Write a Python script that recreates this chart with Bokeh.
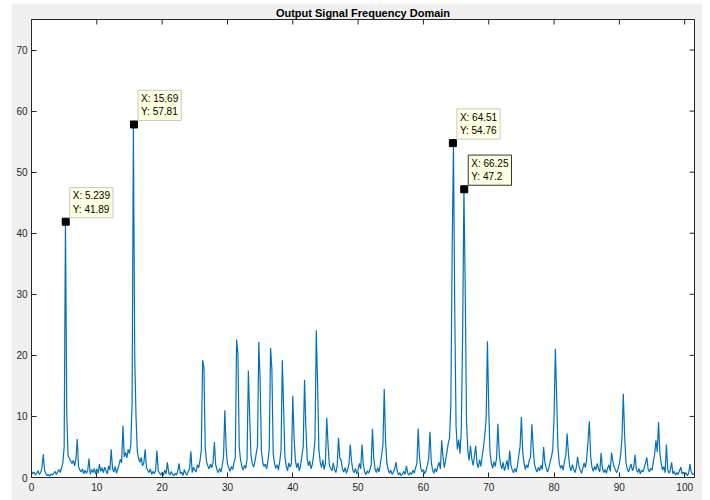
import math
from bokeh.plotting import figure
from bokeh.models import Range1d, Label, FixedTicker
from bokeh.embed import file_html
from bokeh.resources import INLINE

# ---- data ----
FREQ_STEP = 0.2  # spacing of the frequency samples (Hz)
amp = [
    1.0, 0.6, 0.9, 0.4, 0.7, 1.1, 0.5, 0.8, 1.6, 3.8,      # 0.0 - 1.8
    1.2, 0.6, 0.3, 0.5, 0.2, 0.6, 0.4, 0.7, 1.0, 0.5,      # 2.0
    0.9, 1.3, 0.8, 1.6, 2.4, 5.0, 41.89, 10.5, 3.6, 3.1,   # 4.0
    2.7, 2.3, 2.8, 1.9, 3.0, 6.3, 1.8, 1.2, 0.9, 1.4,      # 6.0
    0.6, 1.2, 0.7, 1.1, 3.1, 0.5, 1.3, 0.8, 1.5, 0.6,      # 8.0
    1.4, 0.7, 2.2, 1.0, 1.6, 0.8, 1.7, 1.1, 0.6, 1.9,      # 10.0
    1.2, 4.6, 1.5, 0.9, 1.8, 0.7, 1.4, 2.1, 3.0, 2.4,      # 12.0
    8.5, 3.4, 4.1, 3.2, 4.6, 3.9, 5.3, 12.3, 57.81, 20.0,  # 14.0
    10.0, 4.2, 3.1, 2.5, 3.3, 1.9, 2.4, 4.6, 1.6, 1.2,     # 16.0
    0.8, 1.4, 0.5, 1.0, 0.6, 1.2, 4.4, 1.1, 0.7, 0.4,      # 18.0
    0.9, 0.3, 1.2, 0.6, 2.5, 0.8, 0.4, 1.0, 0.5, 0.3,      # 20.0
    0.7, 0.4, 1.1, 2.3, 0.6, 0.9, 0.3, 1.3, 0.7, 0.4,      # 22.0
    1.0, 1.5, 4.3, 0.8, 1.7, 1.2, 0.9, 2.1, 1.6, 2.8,      # 24.0
    4.5, 19.2, 18.0, 4.8, 2.6, 1.9, 1.4, 2.2, 1.6, 2.5,    # 26.0
    5.8, 2.1, 1.2, 0.8, 1.5, 0.9, 2.0, 3.4, 11.0, 4.7,     # 28.0
    2.2, 1.6, 1.0, 1.8, 1.3, 2.5, 3.2, 22.6, 20.3, 5.1,    # 30.0
    2.9, 1.8, 1.2, 2.0, 1.5, 3.1, 17.5, 10.0, 3.6, 2.3,    # 32.0
    1.7, 2.6, 3.9, 5.2, 22.2, 16.0, 4.3, 2.5, 1.8, 2.2,    # 34.0
    1.4, 2.7, 4.8, 21.2, 17.8, 4.0, 2.3, 1.5, 2.1, 1.2,    # 36.0
    2.6, 4.4, 19.2, 11.2, 3.3, 1.9, 1.1, 2.4, 1.7, 2.3,    # 38.0
    13.4, 6.5, 2.8, 1.6, 2.4, 1.1, 2.0, 3.6, 5.1, 16.0,    # 40.0
    8.4, 3.2, 1.9, 2.7, 1.4, 2.2, 3.8, 6.2, 24.1, 15.0,    # 42.0
    4.6, 2.5, 1.6, 2.9, 1.3, 2.3, 9.8, 5.4, 2.0, 1.5,      # 44.0
    1.1, 2.4, 1.3, 0.8, 1.9, 6.5, 3.2, 2.8, 1.4, 0.9,      # 46.0
    1.6, 0.7, 1.3, 2.2, 5.4, 2.6, 1.2, 0.8, 1.5, 0.6,      # 48.0
    1.2, 2.3, 1.4, 5.4, 2.1, 0.9, 0.5, 1.1, 0.7, 1.3,      # 50.0
    2.0, 8.0, 3.1, 1.4, 0.8, 1.6, 0.9, 2.2, 3.6, 5.3,      # 52.0
    14.5, 6.0, 2.4, 1.3, 0.7, 1.2, 0.5, 0.9, 1.4, 2.5,     # 54.0
    1.0, 0.4, 0.8, 0.3, 0.6, 1.0, 0.5, 1.9, 0.7, 0.4,      # 56.0
    0.8, 0.5, 1.2, 0.7, 1.6, 2.3, 8.0, 3.4, 1.5, 0.9,      # 58.0
    1.3, 0.6, 1.1, 2.0, 3.1, 7.5, 2.6, 1.2, 0.7, 1.5,      # 60.0
    0.9, 1.8, 2.5, 1.4, 6.1, 3.3, 1.6, 2.8, 4.2, 5.6,      # 62.0
    6.5, 12.0, 37.0, 54.76, 27.0, 8.3, 4.6, 6.2, 3.9, 7.8, # 64.0
    23.0, 47.2, 31.0, 9.0, 4.4, 2.8, 5.2, 3.1, 2.0, 3.4,   # 66.0
    5.2, 2.4, 1.6, 2.9, 1.8, 3.5, 5.0, 7.0, 9.5, 22.3,     # 68.0
    11.0, 4.1, 2.3, 1.5, 2.6, 1.8, 3.2, 8.8, 4.0, 2.2,     # 70.0
    1.4, 2.5, 1.1, 1.9, 2.8, 1.3, 4.4, 2.0, 1.2, 0.8,      # 72.0
    1.5, 0.9, 2.0, 3.6, 5.1, 9.9, 4.2, 2.4, 1.3, 2.1,      # 74.0
    1.6, 2.8, 3.3, 8.7, 5.0, 2.2, 1.4, 0.9, 1.7, 1.1,      # 76.0
    2.0, 1.3, 5.0, 2.4, 1.6, 0.9, 1.5, 2.6, 3.4, 4.5,      # 78.0
    10.0, 21.1, 13.0, 4.8, 2.3, 1.5, 2.0, 1.2, 2.7, 3.6,   # 80.0
    7.2, 3.9, 1.8, 1.1, 2.1, 1.4, 0.8, 1.6, 3.4, 1.9,      # 82.0
    1.2, 0.7, 1.5, 2.4, 1.6, 3.1, 6.0, 9.2, 3.5, 1.7,      # 84.0
    1.0, 1.8, 1.2, 2.3, 1.4, 0.9, 4.0, 1.6, 0.8, 1.3,      # 86.0
    0.7, 1.5, 2.1, 1.0, 4.1, 2.6, 1.8, 1.2, 0.8, 1.4,      # 88.0
    2.3, 3.8, 6.5, 13.7, 7.0, 2.5, 1.4, 0.9, 1.6, 2.2,     # 90.0
    1.1, 1.7, 3.7, 1.3, 0.8, 1.5, 0.6, 1.2, 0.9, 1.6,      # 92.0
    2.4, 3.3, 1.4, 0.9, 1.5, 1.2, 2.6, 3.8, 6.1, 4.2,      # 94.0
    9.1, 4.0, 2.3, 1.2, 1.8, 0.8, 5.4, 1.3, 0.7, 1.2,      # 96.0
    2.5, 0.6, 1.0, 0.4, 0.8, 0.5, 1.1, 1.7, 0.6, 0.9,      # 98.0
    0.4, 0.8, 0.3, 0.7, 2.2, 0.9, 0.5, 0.6, 0.4,           # 100.0 - 101.6
]
freq = [round(i * FREQ_STEP, 1) for i in range(len(amp))]

tip_x = [5.239, 15.69, 64.51, 66.25]
tip_y = [41.89, 57.81, 54.76, 47.2]
tip_selected = [False, False, False, True]

x_ticks = [0, 10, 20, 30, 40, 50, 60, 70, 80, 90, 100]
y_ticks = [0, 10, 20, 30, 40, 50, 60, 70]
title_text = "Output Signal Frequency Domain"

X_MAX = 101.5
Y_MAX = 75

# ---- styling ----
AX = "#262626"
FONT = "Liberation Sans"
LINE = "#0072BD"

p = figure(width=691, height=497, output_backend="svg", toolbar_location=None,
           x_range=Range1d(0, X_MAX), y_range=Range1d(0, Y_MAX),
           title=title_text,
           min_border_left=20, min_border_right=8, min_border_top=10, min_border_bottom=23)
p.margin = (3, 8, 0, 11)
p.border_fill_color = "#f0f0f0"
p.background_fill_color = "white"
p.outline_line_color = AX
p.grid.visible = False

p.title.align = "center"
p.title.text_font = FONT
p.title.text_font_size = "11px"
p.title.text_font_style = "bold"
p.title.text_color = "black"
p.title.standoff = 2
p.title.offset = 0
p.title.text_line_height = 1.0

for ax in (p.xaxis[0], p.yaxis[0]):
    ax.major_tick_in = 5
    ax.major_tick_out = 0
    ax.minor_tick_in = 0
    ax.minor_tick_out = 0
    ax.axis_line_color = AX
    ax.major_tick_line_color = AX
    ax.major_label_text_font = FONT
    ax.major_label_text_color = AX
    ax.major_label_text_font_size = "10px"

p.xaxis.ticker = FixedTicker(ticks=x_ticks)
p.yaxis.ticker = FixedTicker(ticks=y_ticks)
p.xaxis.major_label_standoff = 5
p.yaxis.major_label_standoff = 4

# inward ticks on the top and right edges of the box (MATLAB "box on")
p.ray(x=x_ticks, y=[Y_MAX] * len(x_ticks), angle=-math.pi / 2,
      length=5, length_units="screen", line_color=AX, line_width=1)
p.ray(x=[X_MAX] * len(y_ticks), y=y_ticks, angle=math.pi,
      length=5, length_units="screen", line_color=AX, line_width=1)

p.line(freq, amp, line_color=LINE, line_width=1.2)

p.scatter(tip_x, tip_y, marker="square", size=7, fill_color="black", line_color="black")

for tx, ty, sel in zip(tip_x, tip_y, tip_selected):
    lab = Label(x=tx, y=ty, x_offset=4, y_offset=4,
                text=f"X: {tx:.4g}\nY: {ty:.4g}",
                text_font=FONT, text_font_size="10px", text_color="black",
                text_align="left", text_baseline="bottom",
                background_fill_color="#ffffe1",
                border_line_color="#333333" if sel else "#c8c8c8",
                border_line_width=1,
                padding=3)
    p.add_layout(lab)

open("out.html", "w").write(file_html(p, INLINE))
